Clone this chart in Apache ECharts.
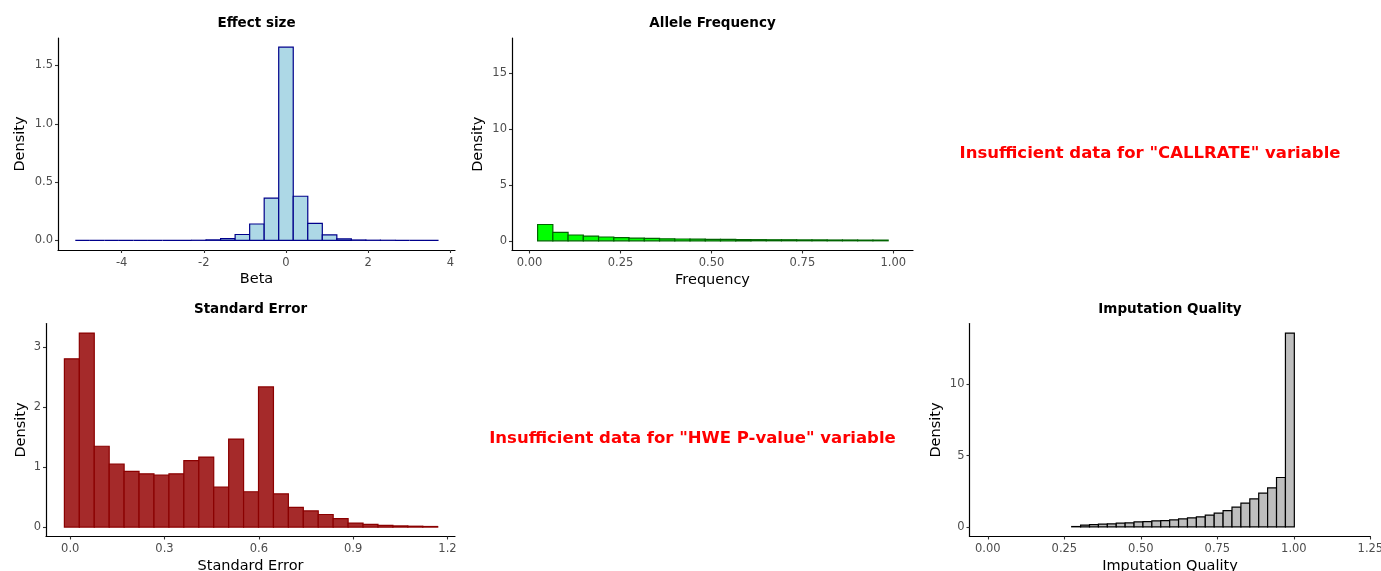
<!DOCTYPE html>
<html>
<head>
<meta charset="utf-8">
<title>QC histograms</title>
<script src="https://cdn.jsdelivr.net/npm/echarts@6/dist/echarts.min.js"></script>
<style>
  html, body { margin: 0; padding: 0; background: #fff; }
  #main { width: 1381px; height: 571px; }
</style>
</head>
<body>
<div id="main"></div>
<script>
// effect size (Beta)
const betaStart = -5.129;
const betaWidth = 0.3537;
const betaDensity = [0, 0, 0, 0, 0, 0, 0, 0, 0.0005, 0.004, 0.014, 0.05, 0.14, 0.362,
  1.657, 0.378, 0.145, 0.046, 0.012, 0.003, 0.001, 0.0005, 0, 0, 0];
const betaTicks = [-4, -2, 0, 2, 4];
const betaYTicks = [0, 0.5, 1, 1.5];

// allele frequency
const afStart = 0.022;
const afWidth = 0.0419;
const afDensity = [1.46, 0.75, 0.52, 0.42, 0.34, 0.28, 0.24, 0.21, 0.18, 0.16, 0.15, 0.13,
  0.12, 0.11, 0.10, 0.09, 0.09, 0.08, 0.08, 0.07, 0.07, 0.06, 0.06];
const afTicks = [0, 0.25, 0.5, 0.75, 1];
const afYTicks = [0, 5, 10, 15];

// standard error
const seStart = -0.0185;
const seWidth = 0.0475;
const seDensity = [2.81, 3.24, 1.35, 1.05, 0.93, 0.89, 0.87, 0.89, 1.11, 1.17, 0.67, 1.47,
  0.59, 2.34, 0.555, 0.33, 0.27, 0.21, 0.14, 0.067, 0.045, 0.03, 0.02, 0.015, 0.01];
const seTicks = [0, 0.3, 0.6, 0.9, 1.2];
const seYTicks = [0, 1, 2, 3];

// imputation quality
const iqStart = 0.274;
const iqWidth = 0.0291;
const iqDensity = [0.02, 0.12, 0.16, 0.19, 0.21, 0.26, 0.28, 0.35, 0.37, 0.42, 0.44, 0.49,
  0.56, 0.63, 0.70, 0.82, 0.96, 1.14, 1.38, 1.66, 1.96, 2.36, 2.73, 3.46, 13.6];
const iqTicks = [0, 0.25, 0.5, 0.75, 1, 1.25];
const iqYTicks = [0, 5, 10];

const FONT = 'DejaVu Sans';

function bins(start, width, dens) {
  return dens.map((d, i) => [start + i * width, start + (i + 1) * width, d]);
}

function renderBin(params, api) {
  const a = api.coord([api.value(0), api.value(2)]);
  const b = api.coord([api.value(1), 0]);
  return {
    type: 'rect',
    shape: { x: a[0], y: a[1], width: b[0] - a[0], height: b[1] - a[1] },
    style: api.style()
  };
}

function xAxis(idx, min, max, ticks, digits, name) {
  return {
    type: 'value', gridIndex: idx, min: min, max: max,
    name: name, nameLocation: 'middle', nameGap: 22,
    nameTextStyle: { fontFamily: FONT, fontSize: 14.5, color: '#000' },
    splitLine: { show: false },
    axisLine: { onZero: false, lineStyle: { color: '#000', width: 1.2 } },
    axisTick: { customValues: ticks, length: 3, lineStyle: { color: '#333', width: 1.1 } },
    axisLabel: {
      customValues: ticks, margin: 7, fontFamily: FONT, fontSize: 11.5, color: '#4d4d4d',
      formatter: v => v.toFixed(digits)
    }
  };
}

function yAxis(idx, min, max, ticks, digits, gap) {
  return {
    type: 'value', gridIndex: idx, min: min, max: max,
    name: 'Density', nameLocation: 'middle', nameGap: gap,
    nameTextStyle: { fontFamily: FONT, fontSize: 14.5, color: '#000' },
    splitLine: { show: false },
    axisLine: { onZero: false, lineStyle: { color: '#000', width: 1.2 } },
    axisTick: { customValues: ticks, length: 3, lineStyle: { color: '#333', width: 1.1 } },
    axisLabel: {
      customValues: ticks, margin: 5, fontFamily: FONT, fontSize: 11.5, color: '#4d4d4d',
      padding: [4, 0, 0, 0],
      formatter: v => v.toFixed(digits)
    }
  };
}

function histSeries(idx, data, fill, stroke) {
  return {
    type: 'custom', xAxisIndex: idx, yAxisIndex: idx,
    renderItem: renderBin,
    encode: { x: [0, 1], y: 2 },
    itemStyle: { color: fill, borderColor: stroke, borderWidth: 1.2 },
    silent: true,
    data: data
  };
}

function label(text, x, y, size, color) {
  return {
    type: 'text', x: x, y: y,
    style: {
      text: text, fill: color, font: 'bold ' + size + 'px "' + FONT + '"',
      textAlign: 'center', textVerticalAlign: 'middle'
    }
  };
}

const chart = echarts.init(document.getElementById('main'));

chart.setOption({
  animation: false,
  grid: [
    { left: 58, top: 38, width: 397, height: 212, outerBoundsMode: 'none' },
    { left: 512, top: 38, width: 401, height: 212.5, outerBoundsMode: 'none' },
    { left: 46, top: 323.5, width: 409, height: 213, outerBoundsMode: 'none' },
    { left: 969.5, top: 323.5, width: 401, height: 213, outerBoundsMode: 'none' }
  ],
  xAxis: [
    xAxis(0, -5.55, 4.114, betaTicks, 0, 'Beta'),
    xAxis(1, -0.0484, 1.054, afTicks, 2, 'Frequency'),
    xAxis(2, -0.077, 1.224, seTicks, 1, 'Standard Error'),
    xAxis(3, -0.06, 1.2504, iqTicks, 2, 'Imputation Quality')
  ],
  yAxis: [
    yAxis(0, -0.083, 1.736, betaYTicks, 1, 30),
    yAxis(1, -0.87, 18.16, afYTicks, 0, 26),
    yAxis(2, -0.157, 3.4, seYTicks, 0, 17),
    yAxis(3, -0.68, 14.27, iqYTicks, 0, 25.5)
  ],
  series: [
    histSeries(0, bins(betaStart, betaWidth, betaDensity), '#add8e6', '#00008b'),
    histSeries(1, bins(afStart, afWidth, afDensity), '#00ff00', '#006400'),
    histSeries(2, bins(seStart, seWidth, seDensity), '#a52a2a', '#8b0000'),
    histSeries(3, bins(iqStart, iqWidth, iqDensity), '#bebebe', '#000000')
  ],
  graphic: [
    label('Effect size', 256.5, 23, 13.5, '#000'),
    label('Allele Frequency', 712.5, 23, 13.5, '#000'),
    label('Standard Error', 250.5, 309, 13.5, '#000'),
    label('Imputation Quality', 1170, 309, 13.5, '#000'),
    label('Insufficient data for "CALLRATE" variable', 1150, 154, 16.5, '#ff0000'),
    label('Insufficient data for "HWE P-value" variable', 692.5, 439, 16.5, '#ff0000')
  ]
});
</script>
</body>
</html>
